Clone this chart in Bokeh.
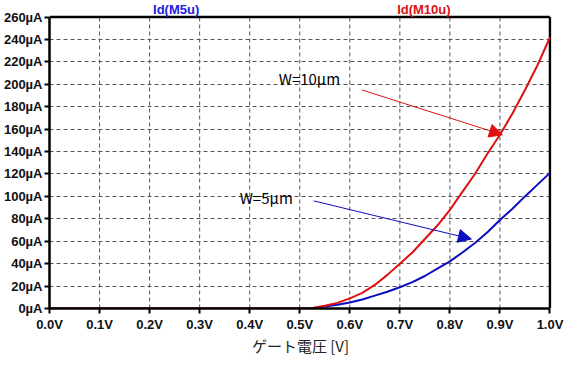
from bokeh.plotting import figure
from bokeh.models import Range1d, FixedTicker, Label, Arrow, NormalHead
from bokeh.embed import file_html
from bokeh.resources import INLINE

# ---- data ----
vgs = [0.0, 0.5, 0.52, 0.55, 0.575, 0.6, 0.625, 0.65, 0.675, 0.7, 0.725, 0.75, 0.775,
       0.8, 0.825, 0.85, 0.875, 0.9, 0.925, 0.95, 0.975, 1.0]
id_m10u = [0.0, 0.0, 0.0, 2.5, 5.0, 9.0, 14.0, 21.0, 30.0, 40.0, 50.0, 62.0, 74.0,
           88.0, 104.0, 120.0, 138.0, 155.0, 174.0, 195.0, 217.0, 242.0]
id_m5u = [0.0, 0.0, 0.0, 1.8, 3.3, 5.3, 8.0, 11.5, 15.0, 19.0, 23.5, 29.0, 35.5,
          42.0, 50.0, 58.5, 68.0, 79.0, 89.0, 100.0, 110.5, 121.0]

x_ticks = [0.0, 0.1, 0.2, 0.3, 0.4, 0.5, 0.6, 0.7, 0.8, 0.9, 1.0]
x_tick_labels = ["0.0V", "0.1V", "0.2V", "0.3V", "0.4V", "0.5V",
                 "0.6V", "0.7V", "0.8V", "0.9V", "1.0V"]
y_ticks = [0, 20, 40, 60, 80, 100, 120, 140, 160, 180, 200, 220, 240, 260]
y_tick_labels = ["0µA", "20µA", "40µA", "60µA", "80µA", "100µA", "120µA",
                 "140µA", "160µA", "180µA", "200µA", "220µA", "240µA", "260µA"]

series_names = ["Id(M5u)", "Id(M10u)"]
x_label = "ゲート電圧 [V]"

RED = "#e01010"
BLUE = "#0c0cc0"
X_MAX = 1.0
Y_MAX = 260

p = figure(width=564, height=358, output_backend="svg", toolbar_location=None,
           x_range=Range1d(0, 1.003), y_range=Range1d(0, 273),
           min_border_left=46, min_border_right=13, min_border_top=2, min_border_bottom=46)
p.background_fill_color = "white"
p.border_fill_color = "white"
p.outline_line_color = None

for ax in (p.xaxis, p.yaxis):
    ax.axis_line_width = 2.5
    ax.axis_line_color = "black"
    ax.major_tick_line_width = 2
    ax.major_tick_line_color = "black"
    ax.major_tick_out = 5
    ax.major_tick_in = 0
    ax.minor_tick_line_color = None
    ax.major_label_text_font = "Liberation Sans"
    ax.major_label_text_font_style = "bold"
    ax.major_label_text_font_size = "13px"
    ax.major_label_text_color = "#111111"

p.xaxis.ticker = FixedTicker(ticks=x_ticks)
p.xaxis.major_label_overrides = dict(zip(x_ticks, x_tick_labels))
p.xaxis.bounds = (0, X_MAX)
p.yaxis.ticker = FixedTicker(ticks=y_ticks)
p.yaxis.major_label_overrides = dict(zip(y_ticks, y_tick_labels))
p.yaxis.bounds = (0, Y_MAX)
p.xaxis.major_label_standoff = 3
p.yaxis.major_label_standoff = 2

p.xaxis.axis_label = x_label
p.xaxis.axis_label_text_font = "Noto Sans CJK JP"
p.xaxis.axis_label_text_font_style = "normal"
p.xaxis.axis_label_text_font_size = "15px"
p.xaxis.axis_label_text_color = "#222222"
p.xaxis.axis_label_standoff = 0

GRID = "#555555"
p.xgrid.grid_line_color = None
p.ygrid.grid_line_color = GRID
p.ygrid.grid_line_dash = "4 3"
p.ygrid.grid_line_width = 1

# vertical grid lines limited to the plotting box
p.segment(x0=x_ticks, y0=[0] * len(x_ticks), x1=x_ticks, y1=[Y_MAX] * len(x_ticks),
          line_color=GRID, line_dash="4 3", line_width=1)

# box: top and right edges
p.segment(x0=[0, X_MAX], y0=[Y_MAX, 0], x1=[X_MAX, X_MAX], y1=[Y_MAX, Y_MAX],
          line_color="black", line_width=2.5)

p.line(vgs, id_m5u, line_color=BLUE, line_width=2)
p.line(vgs, id_m10u, line_color=RED, line_width=2)

# series titles above the box
p.add_layout(Label(x=0.253, y=267, text=series_names[0], text_color="#2020dd",
                   text_font="Liberation Sans", text_font_style="bold",
                   text_font_size="13px", text_align="center", text_baseline="middle"))
p.add_layout(Label(x=0.748, y=267, text=series_names[1], text_color="#dd1111",
                   text_font="Liberation Sans", text_font_style="bold",
                   text_font_size="13px", text_align="center", text_baseline="middle"))

# annotations
p.add_layout(Label(x=0.458, y=205, text="W=10μm", text_color="black",
                   text_font="Noto Sans CJK JP", text_font_size="15px",
                   text_align="left", text_baseline="middle"))
p.add_layout(Arrow(x_start=0.624, y_start=195, x_end=0.905, y_end=155,
                   line_color=RED, line_width=1,
                   end=NormalHead(size=13, fill_color=RED, line_color=RED)))
p.add_layout(Label(x=0.380, y=99, text="W=5μm", text_color="black",
                   text_font="Noto Sans CJK JP", text_font_size="15px",
                   text_align="left", text_baseline="middle"))
p.add_layout(Arrow(x_start=0.528, y_start=96, x_end=0.843, y_end=62,
                   line_color=BLUE, line_width=1,
                   end=NormalHead(size=13, fill_color=BLUE, line_color=BLUE)))

open("out.html", "w").write(file_html(p, INLINE))
